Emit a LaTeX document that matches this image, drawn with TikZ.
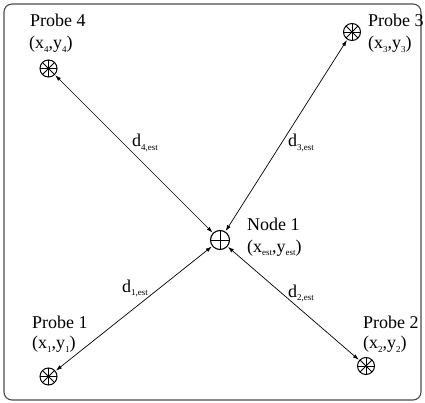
\documentclass[tikz,border=0pt]{standalone}
\usepackage{fontspec}
\setmainfont{Liberation Serif}
\usetikzlibrary{arrows.meta}
\newcommand\mysb[1]{\raisebox{-0.45ex}{\fontsize{9}{9}\selectfont #1}}
\begin{document}
\begin{tikzpicture}[x=1pt,y=-1pt,
  lbl/.style={anchor=base west,inner sep=0pt,font=\fontsize{18}{20}\selectfont},
  probe/.style={circle,draw,line width=1pt,minimum size=17pt,inner sep=0pt,
    path picture={\foreach \a in {0,45,90,135}
      \draw[line width=0.8pt] ([shift={(\a:8.5pt)}]path picture bounding box.center) -- ([shift={(\a+180:8.5pt)}]path picture bounding box.center);}},
  est/.style={circle,draw,line width=1.1pt,minimum size=19pt,inner sep=0pt,
    path picture={\foreach \a in {0,90}
      \draw[line width=0.9pt] ([shift={(\a:9.5pt)}]path picture bounding box.center) -- ([shift={(\a+180:9.5pt)}]path picture bounding box.center);}},
  link/.style={{Latex[length=6pt,width=4pt]}-{Latex[length=6pt,width=4pt]},line width=0.7pt,shorten <=0.5pt,shorten >=0.5pt}]
\useasboundingbox (0,0) rectangle (425,403);
\draw[rounded corners=8pt,line width=1.1pt,draw=black!70] (4,4) rectangle (421,400);

\node[probe] (p4) at (48.5,68.5) {};
\node[probe] (p3) at (352,32) {};
\node[probe] (p1) at (48.5,376.5) {};
\node[probe] (p2) at (366,366) {};
\node[est] (n1) at (220,240) {};

\node[lbl] (t4a) at (30,27) {Probe 4};
\node[lbl] (t4b) at (29,48.5) {(x\mysb{4},y\mysb{4})};
\node[lbl] (t3a) at (368,27) {Probe 3};
\node[lbl] (t3b) at (368,48.5) {(x\mysb{3},y\mysb{3})};
\node[lbl] (tna) at (247,230) {Node 1};
\node[lbl] (tnb) at (247,252) {(x\mysb{est},y\mysb{est})};
\node[lbl] (t1a) at (32,328) {Probe 1};
\node[lbl] (t1b) at (32,348.5) {(x\mysb{1},y\mysb{1})};
\node[lbl] (t2a) at (363,328) {Probe 2};
\node[lbl] (t2b) at (363,348.5) {(x\mysb{2},y\mysb{2})};

\node[lbl] (d4) at (132,147) {d\mysb{4,est}};
\node[lbl] (d3) at (288,147) {d\mysb{3,est}};
\node[lbl] (d1) at (122,292) {d\mysb{1,est}};
\node[lbl] (d2) at (288,297) {d\mysb{2,est}};

\draw[link] (p4) -- (n1);
\draw[link] (p3) -- (n1);
\draw[link] (p1) -- (n1);
\draw[link] (p2) -- (n1);
\end{tikzpicture}
\end{document}
